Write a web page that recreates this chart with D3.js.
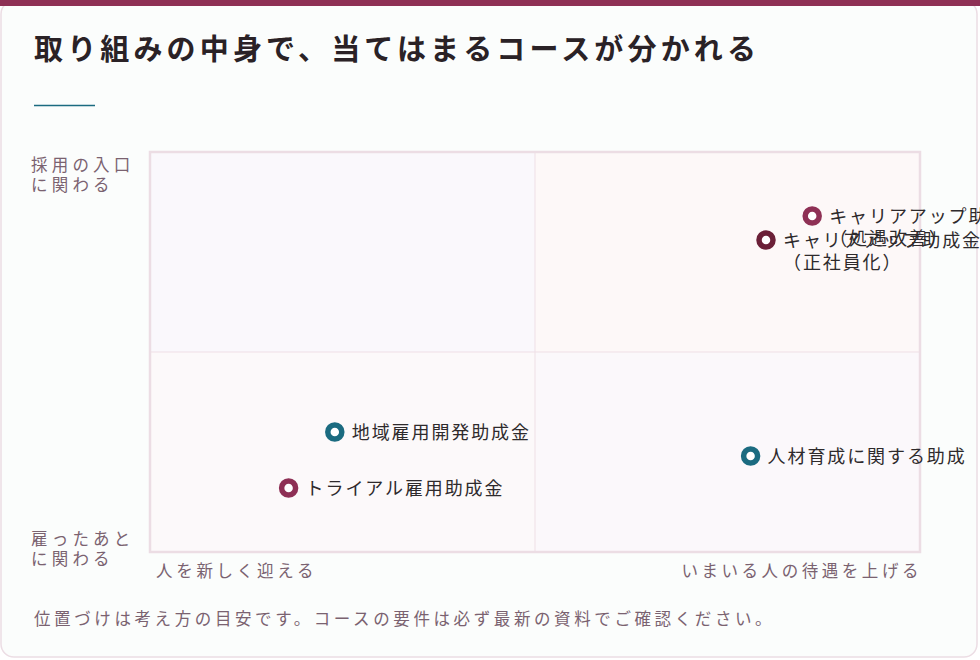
<!DOCTYPE html>
<html><head><meta charset="utf-8">
<script src="https://cdn.jsdelivr.net/npm/d3@7"></script>
<style>
html,body{margin:0;padding:0;background:#ffffff;}
svg{display:block;}
text{font-family:"Noto Sans CJK JP","Noto Sans",sans-serif;}
</style></head>
<body>
<svg id="c" width="980" height="660"></svg>
<script>
const title = "取り組みの中身で、当てはまるコースが分かれる";
const courseNames = [
  ["キャリアアップ助成金","（処遇改善）"],
  ["キャリアアップ助成金","（正社員化）"],
  ["地域雇用開発助成金"],
  ["トライアル雇用助成金"],
  ["人材育成に関する助成"]
];
const xValues = [86, 80, 24, 18, 78];
const yValues = [84, 78, 30, 16, 24];
const groups = ["upgrade","regular","hire","trial","train"];
const yAxisTop = ["採用の入口","に関わる"];
const yAxisBottom = ["雇ったあと","に関わる"];
const xAxisLeft = "人を新しく迎える";
const xAxisRight = "いまいる人の待遇を上げる";
const note = "位置づけは考え方の目安です。コースの要件は必ず最新の資料でご確認ください。";

const colorOf = {upgrade:"#8e3055", regular:"#6b2038", hire:"#1b6b80", trial:"#8e3055", train:"#1b6b80"};

const svg = d3.select("#c");
// card
svg.append("rect").attr("x",1).attr("y",1).attr("width",976).attr("height",656)
  .attr("rx",13).attr("fill","#fbfdfc").attr("stroke","#ecdde4").attr("stroke-width",1.5);
svg.append("rect").attr("x",0).attr("y",0).attr("width",980).attr("height",6).attr("fill","#8e3055");

svg.append("text").attr("x",34).attr("y",60).attr("font-size",29).attr("font-weight",700)
  .attr("letter-spacing",4.15).attr("fill","#2a2226").text(title);
svg.append("line").attr("x1",34).attr("x2",95).attr("y1",105.5).attr("y2",105.5)
  .attr("stroke","#1b6b80").attr("stroke-width",1.5);

const x = d3.scaleLinear().domain([0,100]).range([150,920]);
const y = d3.scaleLinear().domain([0,100]).range([552,152]);

// quadrants
const quads = [
  {x0:0,x1:50,y0:50,y1:100,fill:"#faf8fc"},
  {x0:50,x1:100,y0:50,y1:100,fill:"#fdf8f8"},
  {x0:0,x1:50,y0:0,y1:50,fill:"#fcf9fa"},
  {x0:50,x1:100,y0:0,y1:50,fill:"#fbf8fb"}
];
svg.append("g").selectAll("rect").data(quads).join("rect")
  .attr("x",d=>x(d.x0)).attr("y",d=>y(d.y1))
  .attr("width",d=>x(d.x1)-x(d.x0)).attr("height",d=>y(d.y0)-y(d.y1))
  .attr("fill",d=>d.fill);
svg.append("line").attr("x1",x(50)).attr("x2",x(50)).attr("y1",y(100)).attr("y2",y(0))
  .attr("stroke","#efdfe6").attr("stroke-width",1);
svg.append("line").attr("x1",x(0)).attr("x2",x(100)).attr("y1",y(50)).attr("y2",y(50))
  .attr("stroke","#efdfe6").attr("stroke-width",1);
svg.append("rect").attr("x",x(0)).attr("y",y(100)).attr("width",x(100)-x(0)).attr("height",y(0)-y(100))
  .attr("fill","none").attr("stroke","#ecdde4").attr("stroke-width",2.5);

// axis labels
const axCol = "#7a6270";
const axText = (lines, xx, yy, anchor, ls) => {
  lines.forEach((l,i)=>{
    svg.append("text").attr("x",xx).attr("y",yy+i*20).attr("font-size",16.5)
      .attr("letter-spacing",ls).attr("fill",axCol).attr("text-anchor",anchor).text(l);
  });
};
axText(yAxisTop, 31, 171, "start", 4.2);
axText(yAxisBottom, 31, 545, "start", 4.2);
axText([xAxisLeft], 156, 577, "start", 3.7);
axText([xAxisRight], 922, 577, "end", 3.55);
axText([note], 34, 625, "start", 3.6);

// points
const data = courseNames.map((n,i)=>({name:n,x:xValues[i],y:yValues[i],g:groups[i]}));
const pg = svg.append("g").selectAll("g").data(data).join("g")
  .attr("transform",d=>`translate(${x(d.x)},${y(d.y)})`);
pg.append("circle").attr("r",7).attr("fill","#ffffff")
  .attr("stroke",d=>colorOf[d.g]).attr("stroke-width",5.5);
pg.each(function(d){
  const t = d3.select(this).append("text").attr("x",17).attr("y",0)
    .attr("font-size",18).attr("letter-spacing",1.9).attr("fill","#2e2a2c");
  d.name.forEach((l,i)=>{
    t.append("tspan").attr("x",17).attr("y",6.5+i*22).text(l);
  });
});
</script>
</body></html>
